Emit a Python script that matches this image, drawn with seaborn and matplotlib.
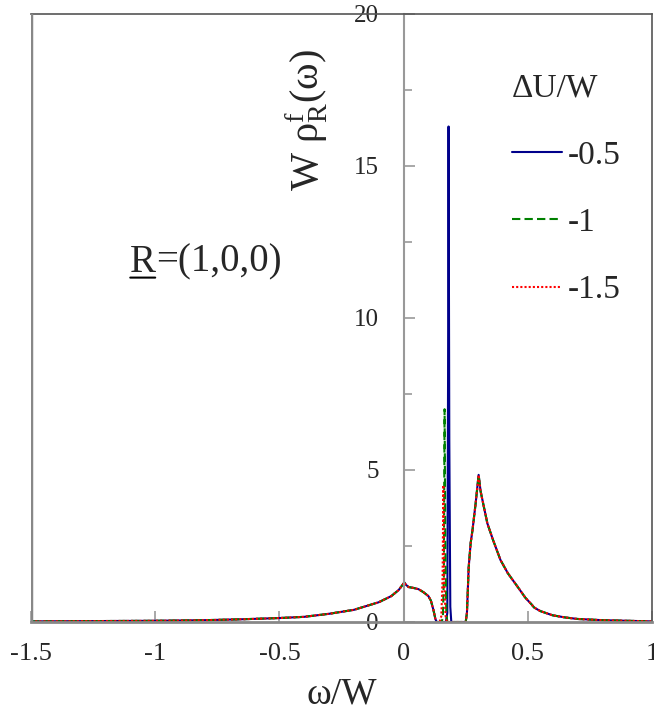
import pandas as pd
import matplotlib
matplotlib.use("Agg")
import matplotlib.pyplot as plt
from matplotlib.ticker import MultipleLocator
import seaborn as sns

sns.set_style("white")
plt.rcParams['font.family'] = ['Liberation Serif', 'DejaVu Serif']
plt.rcParams['mathtext.fontset'] = 'custom'
plt.rcParams['mathtext.rm'] = 'Liberation Serif'
plt.rcParams['mathtext.it'] = 'Liberation Serif:italic'
plt.rcParams['axes.unicode_minus'] = False

# series (Delta U / W)
labels = ['-0.5', '-1', '-1.5']
colors = ['#00008b', '#008000', '#ff0000']
dash_styles = ['', (4, 2), (1, 1)]

# part of the spectrum shared by all three curves (below the gap)
left_w = [-1.5, -1.25, -1.0, -0.8, -0.65, -0.5, -0.4, -0.3, -0.2, -0.1, -0.05,
          -0.02, 0.003, 0.01, 0.02, 0.04, 0.06, 0.08, 0.1, 0.11, 0.12, 0.128, 0.133]
left_v = [0.02, 0.03, 0.04, 0.06, 0.09, 0.13, 0.17, 0.27, 0.4, 0.65, 0.85,
          1.05, 1.3, 1.22, 1.15, 1.12, 1.08, 0.98, 0.85, 0.7, 0.4, 0.1, 0.0]

# bound-state peak, different for each series
peak_w = [
    [0.17, 0.176, 0.179, 0.181, 0.184, 0.188, 0.192],
    [0.15, 0.158, 0.162, 0.165, 0.168, 0.172, 0.176],
    [0.145, 0.152, 0.157, 0.16, 0.164, 0.169, 0.174],
]
peak_v = [
    [0.0, 0.3, 8.0, 16.3, 6.0, 0.5, 0.0],
    [0.0, 0.1, 1.5, 7.0, 2.5, 0.3, 0.0],
    [0.0, 0.2, 1.5, 4.5, 1.2, 0.2, 0.0],
]

# shared upper band
right_w = [0.2, 0.25, 0.255, 0.262, 0.27, 0.277, 0.29, 0.302, 0.31, 0.337, 0.36,
           0.39, 0.42, 0.458, 0.49, 0.515, 0.525, 0.55, 0.6, 0.65, 0.7, 0.8, 0.9, 1.0]
right_v = [0.0, 0.0, 0.3, 1.8, 2.6, 3.0, 3.9, 4.84, 4.3, 3.25, 2.7,
           2.04, 1.6, 1.17, 0.8, 0.58, 0.48, 0.36, 0.22, 0.15, 0.1, 0.06, 0.04, 0.02]

frames = []
for lab, pw, pv in zip(labels, peak_w, peak_v):
    frames.append(pd.DataFrame({'omega': left_w + pw + right_w,
                                'rho': left_v + pv + right_v,
                                'dU': lab}))
df = pd.concat(frames, ignore_index=True)

fig = plt.figure(figsize=(6.54, 7.21), dpi=100)
ax = fig.add_axes([31 / 654, 99 / 721, 621 / 654, 608 / 721])

sns.lineplot(data=df, x='omega', y='rho', hue='dU', style='dU',
             palette=dict(zip(labels, colors)), dashes=dict(zip(labels, dash_styles)),
             estimator=None, sort=False, linewidth=1.5, ax=ax)

ax.set_xlim(-1.5, 1)
ax.set_ylim(0, 20)

# y axis through omega = 0
ax.spines['left'].set_position(('data', 0))
ax.spines['left'].set_color('#999999')
ax.spines['left'].set_linewidth(1.5)
ax.axvline(-1.5, color='#888888', lw=2.5, zorder=5)
ax.spines['bottom'].set_color('#888888')
ax.spines['bottom'].set_linewidth(2)
ax.spines['top'].set_color('#555555')
ax.spines['top'].set_linewidth(1.2)
ax.spines['right'].set_color('#555555')
ax.spines['right'].set_linewidth(1.2)

ax.set_xticks([-1.5, -1, -0.5, 0, 0.5, 1])
ax.set_xticklabels(['-1.5', '-1', '-0.5', '0', '0.5', '1'])
ax.yaxis.set_major_locator(MultipleLocator(5))
ax.yaxis.set_minor_locator(MultipleLocator(2.5))
ax.tick_params(axis='x', direction='in', length=8, width=1.2, color='#999999',
               labelsize=19, pad=15, bottom=True, top=False)
ax.tick_params(axis='y', which='major', direction='in', length=8, width=1.2,
               color='#999999', labelsize=18, pad=18, left=True, right=False)
ax.tick_params(axis='y', which='minor', direction='in', length=6, width=1.2,
               color='#999999', left=True, right=False)

ax.set_xlabel('ω/W', fontsize=27, labelpad=9)
ax.set_ylabel('W ρ$^{\\rm f}_{\\rm R}$(ω)', fontsize=29)
ax.yaxis.set_label_coords(0.482, 0.826)

# R=(1,0,0) with underlined R
tR = ax.text(0.159, 0.592, 'R', transform=ax.transAxes,
             fontsize=28, ha='left', va='center')
ax.annotate('=(1,0,0)', xy=(1, 0.5), xycoords=tR, fontsize=28,
            ha='left', va='center')
ax.annotate('', xy=(0.02, 0.08), xytext=(0.98, 0.08), xycoords=tR, textcoords=tR,
            arrowprops=dict(arrowstyle='-', color='black', lw=1.5,
                            shrinkA=0, shrinkB=0))

sns.move_legend(ax, 'upper left', bbox_to_anchor=(0.747, 0.93), title='ΔU/W',
                frameon=False, fontsize=24, title_fontsize=24, handlelength=1.5,
                handletextpad=0.2, labelspacing=1.1, alignment='left', borderpad=0)

fig.savefig('out.png', dpi=100)
